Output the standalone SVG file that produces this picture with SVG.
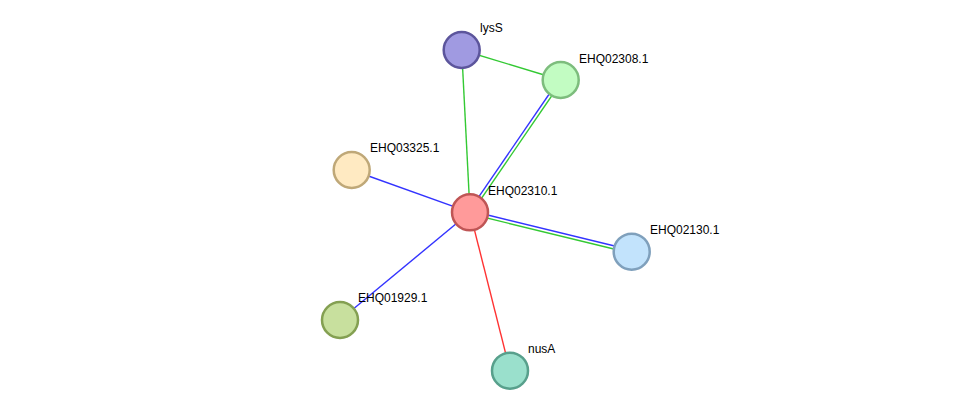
<svg xmlns="http://www.w3.org/2000/svg" width="976" height="416" viewBox="0 0 976 416">
<style>
.n circle{stroke-width:2.5}
.n text{font-family:"Liberation Sans",Arial,sans-serif;font-size:12px;fill:#000}
.e line{stroke-width:1.4}
.g{stroke:#33c933}
.b{stroke:#3333ff}
.r{stroke:#ff3333}
</style>
<rect width="976" height="416" fill="#fff"/>
<g id="connectors" class="e">
<line class="g" x1="461.7" y1="50" x2="560.7" y2="80"/>
<line class="g" x1="461.7" y1="50" x2="470" y2="212.3"/>
<line class="b" x1="559.5" y1="79" x2="468.8" y2="211.3"/>
<line class="g" x1="561.9" y1="81" x2="471.2" y2="213.3"/>
<line class="b" x1="351.7" y1="170" x2="470" y2="212.3"/>
<line class="b" x1="470.4" y1="210.8" x2="632.1" y2="250.2"/>
<line class="g" x1="469.6" y1="213.8" x2="631.3" y2="253.2"/>
<line class="b" x1="340" y1="320" x2="470" y2="212.3"/>
<line class="r" x1="470" y1="212.3" x2="510" y2="370.7"/>
</g>
<g id="lysS" class="n"><circle cx="461.7" cy="50" r="18" fill="#a09ae1" stroke="#5c559c"/><text x="480" y="32">lysS</text></g>
<g id="EHQ02308.1" class="n"><circle cx="560.7" cy="80" r="18" fill="#c2fcc2" stroke="#7dbd7d"/><text x="579" y="63">EHQ02308.1</text></g>
<g id="EHQ03325.1" class="n"><circle cx="351.7" cy="170" r="18" fill="#ffeac2" stroke="#bfa878"/><text x="370" y="152">EHQ03325.1</text></g>
<g id="EHQ02310.1" class="n"><circle cx="470" cy="212.3" r="18" fill="#ff9a9a" stroke="#bf5555"/><text x="488" y="195">EHQ02310.1</text></g>
<g id="EHQ02130.1" class="n"><circle cx="631.7" cy="251.7" r="18" fill="#c2e3fc" stroke="#7fa0bc"/><text x="650" y="234">EHQ02130.1</text></g>
<g id="EHQ01929.1" class="n"><circle cx="340" cy="320" r="18" fill="#c8e09e" stroke="#84a052"/><text x="358" y="302">EHQ01929.1</text></g>
<g id="nusA" class="n"><circle cx="510" cy="370.7" r="18" fill="#9ae0cc" stroke="#58a08c"/><text x="528" y="353">nusA</text></g>
</svg>
